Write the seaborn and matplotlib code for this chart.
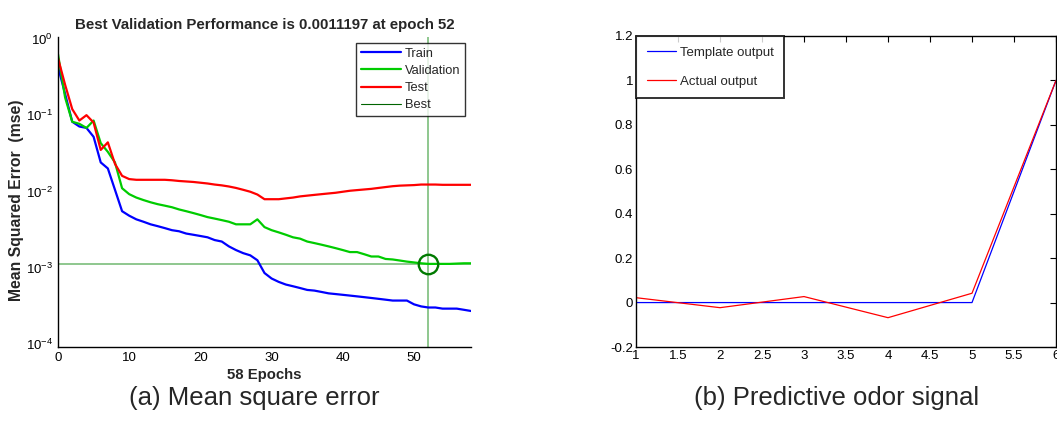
import numpy as np
import pandas as pd
import matplotlib
matplotlib.use("Agg")
import matplotlib.pyplot as plt
import seaborn as sns

# ---------------------------------------------------------
# DATA
# ---------------------------------------------------------
epochs = list(range(59))

train = [0.43, 0.19, 0.082, 0.071, 0.068, 0.052, 0.024, 0.020, 0.0105, 0.0055,
         0.0048, 0.0043, 0.0040, 0.0037, 0.0035, 0.0033, 0.0031, 0.0030, 0.0028, 0.0027,
         0.0026, 0.0025, 0.0023, 0.0022, 0.0019, 0.0017, 0.00155, 0.00145, 0.00125, 0.00085,
         0.00072, 0.00065, 0.00060, 0.00057, 0.00054, 0.00051, 0.00050, 0.00048, 0.00046, 0.00045,
         0.00044, 0.00043, 0.00042, 0.00041, 0.00040, 0.00039, 0.00038, 0.00037, 0.00037, 0.00037,
         0.00033, 0.00031, 0.00030, 0.00030, 0.00029, 0.00029, 0.00029, 0.00028, 0.00027]

validation = [0.63, 0.17, 0.082, 0.077, 0.068, 0.085, 0.043, 0.033, 0.024, 0.011,
              0.0092, 0.0083, 0.0077, 0.0072, 0.0068, 0.0065, 0.0062, 0.0058, 0.0055, 0.0052,
              0.0049, 0.0046, 0.0044, 0.0042, 0.0040, 0.0037, 0.0037, 0.0037, 0.0043, 0.0034,
              0.0031, 0.0029, 0.0027, 0.0025, 0.0024, 0.0022, 0.0021, 0.0020, 0.0019, 0.0018,
              0.0017, 0.0016, 0.0016, 0.0015, 0.0014, 0.0014, 0.0013, 0.00128, 0.00124, 0.0012,
              0.00117, 0.00114, 0.0011197, 0.00112, 0.00112, 0.00112, 0.00113, 0.00114, 0.00114]

test = [0.56, 0.25, 0.12, 0.085, 0.10, 0.080, 0.035, 0.044, 0.023, 0.016,
        0.0145, 0.0142, 0.0142, 0.0142, 0.0142, 0.0142, 0.0140, 0.0137, 0.0135, 0.0133,
        0.0130, 0.0127, 0.0123, 0.0120, 0.0116, 0.0111, 0.0105, 0.0099, 0.0091, 0.0079,
        0.0079, 0.0079, 0.0081, 0.0083, 0.0086, 0.0088, 0.0090, 0.0092, 0.0094, 0.0096,
        0.0099, 0.0102, 0.0104, 0.0106, 0.0108, 0.0111, 0.0114, 0.0117, 0.0119, 0.0120,
        0.0121, 0.0123, 0.0123, 0.0123, 0.0122, 0.0122, 0.0122, 0.0122, 0.0122]

best_epoch = 52
best_perf = 0.0011197

signal_x = [1, 2, 3, 4, 5, 6]
template_output = [0, 0, 0, 0, 0, 1]
actual_output = [0.022, -0.023, 0.027, -0.068, 0.042, 1.0]

# ---------------------------------------------------------
# FIGURE
# ---------------------------------------------------------
sns.set_style("white")
plt.rcParams["font.family"] = ["Liberation Sans", "DejaVu Sans"]
narrow = ["Liberation Sans Narrow", "Liberation Sans", "DejaVu Sans"]

fig = plt.figure(figsize=(10.57, 4.21), dpi=100)
ax1 = fig.add_axes([58 / 1057, 1 - 347 / 421, (471 - 58) / 1057, (347 - 37) / 421])
ax2 = fig.add_axes([636 / 1057, 1 - 347 / 421, (1056 - 636) / 1057, (347 - 36) / 421])

# ---- (a) performance plot ----
perf = pd.DataFrame({"epoch": epochs * 3,
                     "mse": train + validation + test,
                     "set": ["Train"] * 59 + ["Validation"] * 59 + ["Test"] * 59})
sns.lineplot(data=perf, x="epoch", y="mse", hue="set",
             palette={"Train": "#0000ff", "Validation": "#00cc00", "Test": "#ff0000"},
             linewidth=1.6, ax=ax1, legend=False)
ax1.set_yscale("log")
ax1.axvline(best_epoch, color="#70b870", lw=1.1, zorder=1)
ax1.axhline(best_perf, color="#70b870", lw=1.1, zorder=1)
ax1.plot([best_epoch], [best_perf], "o", mfc="none", mec="#007a00", ms=14, mew=1.7)
ax1.set_xlim(0, 58)
ax1.set_ylim(9.1e-5, 1.06)
ax1.set_xticks([0, 10, 20, 30, 40, 50])
ax1.set_yticks([1e-4, 1e-3, 1e-2, 1e-1, 1e0])
ax1.tick_params(axis="both", which="both", direction="in", labelsize=9.5, colors="black")
ax1.tick_params(axis="both", which="major", length=4, width=0.8)
ax1.tick_params(axis="y", which="minor", length=2.5, width=0.7)
for s in ["top", "right"]:
    ax1.spines[s].set_visible(False)
for s in ["left", "bottom"]:
    ax1.spines[s].set_color("black")
    ax1.spines[s].set_linewidth(1.0)
ax1.set_title("Best Validation Performance is 0.0011197 at epoch 52",
              fontsize=10.8, fontweight="bold", pad=6)
ax1.set_xlabel("58 Epochs", fontsize=10.7, fontweight="bold", labelpad=3)
ax1.set_ylabel("Mean Squared Error  (mse)", fontsize=11.3, fontweight="bold")
ax1.yaxis.set_label_coords(-0.083, 0.474)

h = [plt.Line2D([], [], color="#0000ff", lw=1.6),
     plt.Line2D([], [], color="#00cc00", lw=1.6),
     plt.Line2D([], [], color="#ff0000", lw=1.6),
     plt.Line2D([], [], color="#006400", lw=0.8)]
leg1 = ax1.legend(h, ["Train", "Validation", "Test", "Best"], loc="upper right",
                  bbox_to_anchor=(0.985, 0.98), fontsize=9.3, frameon=True, fancybox=False,
                  handlelength=3.1, handletextpad=0.3, labelspacing=0.4,
                  borderpad=0.35, borderaxespad=0)
leg1.get_frame().set_edgecolor("black")
leg1.get_frame().set_linewidth(1.0)

# ---- (b) predictive odor signal ----
sig = pd.DataFrame({"x": signal_x * 2,
                    "y": template_output + actual_output,
                    "kind": ["Template output"] * 6 + ["Actual output"] * 6})
sns.lineplot(data=sig, x="x", y="y", hue="kind",
             palette={"Template output": "#0000ff", "Actual output": "#ff0000"},
             linewidth=0.9, ax=ax2, legend=False)
ax2.set_xlim(1, 6)
ax2.set_ylim(-0.2, 1.2)
ax2.set_xticks([1, 1.5, 2, 2.5, 3, 3.5, 4, 4.5, 5, 5.5, 6])
ax2.set_xticklabels(["1", "1.5", "2", "2.5", "3", "3.5", "4", "4.5", "5", "5.5", "6"])
ax2.set_yticks([-0.2, 0, 0.2, 0.4, 0.6, 0.8, 1, 1.2])
ax2.set_yticklabels(["-0.2", "0", "0.2", "0.4", "0.6", "0.8", "1", "1.2"])
ax2.tick_params(axis="both", direction="in", length=4, width=0.8, labelsize=9.5,
                top=True, right=True, colors="black", pad=2)
for lab in ax2.get_xticklabels() + ax2.get_yticklabels():
    lab.set_family(narrow)
for s in ax2.spines.values():
    s.set_color("black")
    s.set_linewidth(1.0)
ax2.set_xlabel("")
ax2.set_ylabel("")

h2 = [plt.Line2D([], [], color="#0000ff", lw=0.9),
      plt.Line2D([], [], color="#ff0000", lw=0.9)]
leg2 = ax2.legend(h2, ["Template output", "Actual output"], loc="upper left",
                  prop={"family": narrow, "size": 9.5}, frameon=True, fancybox=False,
                  handlelength=2.2, handletextpad=0.3, labelspacing=1.25,
                  borderpad=0.8, borderaxespad=0)
leg2.get_frame().set_edgecolor("black")
leg2.get_frame().set_linewidth(1.4)

# ---- captions ----
fig.text(254 / 1057, 1 - 398 / 421, "(a) Mean square error", fontsize=18.5,
         ha="center", va="center")
fig.text(837 / 1057, 1 - 398 / 421, "(b) Predictive odor signal", fontsize=18.5,
         ha="center", va="center")

fig.savefig("out.png", dpi=100)
